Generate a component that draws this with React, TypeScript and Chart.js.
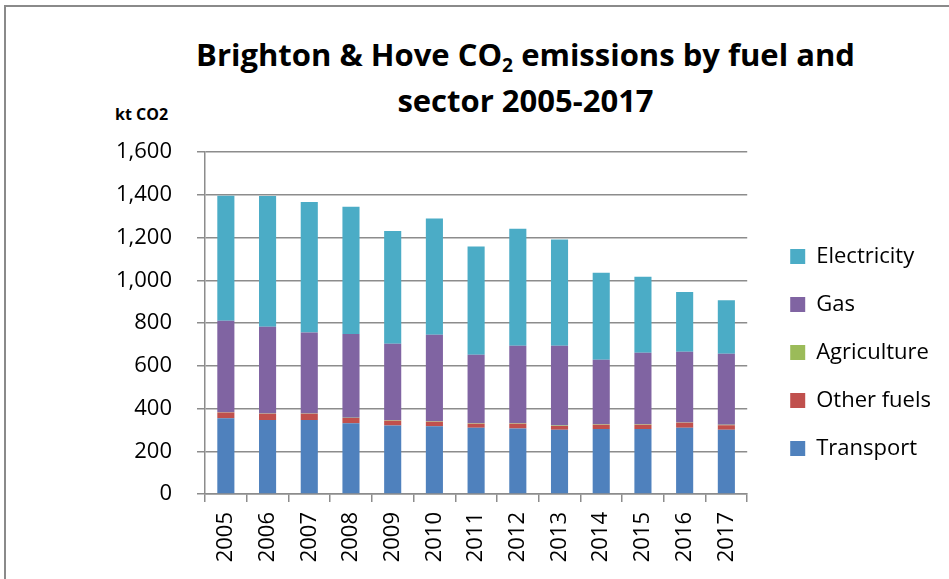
import React, { useEffect, useRef } from "react";
import { Chart, registerables } from "chart.js";

Chart.register(...registerables);

const years = ["2005", "2006", "2007", "2008", "2009", "2010", "2011", "2012", "2013", "2014", "2015", "2016", "2017"];
const transport = [354, 346, 346, 331, 321, 317, 310, 307, 301, 304, 304, 310, 301];
const otherFuels = [27, 29, 29, 24, 22, 21, 19, 22, 17, 20, 20, 23, 21];
const agriculture = [2, 2, 2, 2, 2, 2, 2, 2, 2, 2, 2, 2, 2];
const gas = [428, 406, 378, 391, 358, 405, 321, 363, 374, 302, 335, 331, 332];
const electricity = [584, 611, 611, 596, 527, 544, 506, 547, 497, 407, 355, 279, 250];
const yTicks = [0, 200, 400, 600, 800, 1000, 1200, 1400, 1600];

const FONT = "'Open Sans', sans-serif";
const GRID = "#8c8c8c";

export default function App() {
  const ref = useRef<HTMLCanvasElement>(null);

  useEffect(() => {
    if (!ref.current) return;
    const legendShift = {
      id: "legendShift",
      afterLayout(chart: any) {
        const l = chart.legend;
        if (!l) return;
        const dx = 17;
        const dy = -13;
        l.left += dx;
        l.right += dx;
        l.top += dy;
        l.bottom += dy;
      },
    };
    const chart = new Chart(ref.current, {
      type: "bar",
      data: {
        labels: years,
        datasets: [
          { label: "Transport", data: transport, backgroundColor: "#4F81BD" },
          { label: "Other fuels", data: otherFuels, backgroundColor: "#C0504D" },
          { label: "Agriculture", data: agriculture, backgroundColor: "#9BBB59" },
          { label: "Gas", data: gas, backgroundColor: "#8064A2" },
          { label: "Electricity", data: electricity, backgroundColor: "#4BACC6" },
        ],
      },
      options: {
        animation: false,
        responsive: true,
        maintainAspectRatio: false,
        layout: { padding: { top: 152, left: 0, right: 25, bottom: 0 } },
        datasets: { bar: { categoryPercentage: 1, barPercentage: 0.41, borderWidth: 0 } },
        plugins: {
          title: { display: false },
          tooltip: { enabled: false },
          legend: {
            position: "right",
            reverse: true,
            labels: {
              boxWidth: 15,
              boxHeight: 15,
              padding: 26,
              color: "#000",
              font: { family: FONT, size: 22 },
            },
          },
        },
        scales: {
          x: {
            stacked: true,
            afterFit: (s: any) => {
              s.height = 85;
            },
            grid: { drawOnChartArea: false, drawTicks: true, tickLength: 8, color: GRID, lineWidth: 1.5 },
            border: { display: true, color: GRID, width: 1.5 },
            ticks: {
              color: "#000",
              font: { family: FONT, size: 22 },
              maxRotation: 90,
              minRotation: 90,
              padding: 10,
              autoSkip: false,
            },
          },
          y: {
            stacked: true,
            min: 0,
            max: 1600,
            afterFit: (s: any) => {
              s.width = 205;
            },
            afterBuildTicks: (s: any) => {
              s.ticks = yTicks.map((v) => ({ value: v }));
            },
            grid: { color: GRID, lineWidth: 1.5, tickLength: 8 },
            border: { display: true, color: GRID, width: 1.5 },
            ticks: {
              color: "#000",
              font: { family: FONT, size: 22 },
              padding: 25,
              callback: (v: any) => Number(v).toLocaleString("en-US"),
            },
          },
        },
      },
      plugins: [legendShift],
    });
    return () => chart.destroy();
  }, []);

  return (
    <div style={{ position: "absolute", left: 0, top: 0, width: 949, height: 579, background: "#fff", overflow: "hidden" }}>
      <div
        style={{
          position: "absolute",
          left: 4,
          top: 5,
          right: -10,
          bottom: -10,
          borderTop: "2px solid #8a8a8a",
          borderLeft: "2px solid #8a8a8a",
        }}
      />
      <div
        style={{
          position: "absolute",
          left: 100,
          width: 851,
          top: 31,
          textAlign: "center",
          fontFamily: FONT,
          fontWeight: 700,
          fontSize: 31,
          lineHeight: "46px",
          color: "#000",
        }}
      >
        Brighton &amp; Hove CO
        <sub style={{ fontSize: "0.62em", verticalAlign: "-0.3em", lineHeight: 0 }}>2</sub> emissions by fuel and
        <br />
        sector 2005-2017
      </div>
      <div
        style={{
          position: "absolute",
          left: 115,
          top: 103,
          fontFamily: FONT,
          fontWeight: 700,
          fontSize: 16,
          color: "#000",
        }}
      >
        kt CO2
      </div>
      <div style={{ position: "absolute", left: 0, top: 0, width: 949, height: 579 }}>
        <canvas ref={ref} />
      </div>
    </div>
  );
}
